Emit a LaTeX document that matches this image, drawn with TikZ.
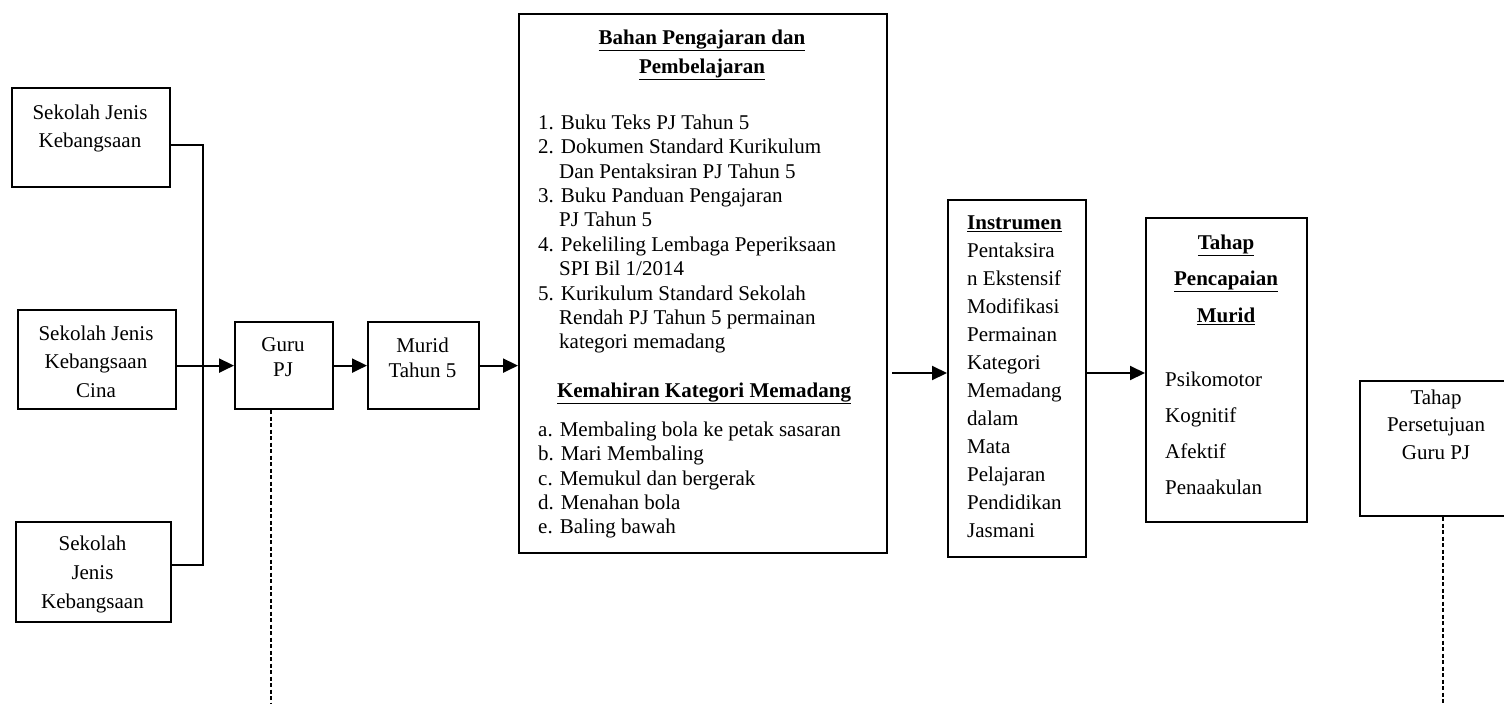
\documentclass[tikz,border=0pt]{standalone}
\usepackage{fontspec}
\setmainfont{Liberation Serif}
\usetikzlibrary{arrows.meta,calc}

\tikzset{
  box/.style={draw, line width=2.2pt, inner sep=0pt, anchor=north west},
  txt/.style={inner sep=0pt},
  link/.style={line width=2pt},
  arr/.style={line width=2pt, -{Triangle[length=15pt,width=14pt]}},
  guide/.style={line width=1.5pt, dash pattern=on 4pt off 2.5pt},
}
\newcommand{\fs}[1]{\fontsize{21}{#1}\selectfont}
\newcommand{\hd}[1]{\underline{\textbf{#1}}}

\begin{document}
\begin{tikzpicture}[x=1pt, y=-1pt]
  \useasboundingbox (0,0) rectangle (1504,704);
  \clip (0,0) rectangle (1504,704);

  % boxes
  \node[box, minimum width=158pt, minimum height=99pt]  (sjk1)  at (11,87) {};
  \node[box, minimum width=158pt, minimum height=99pt]  (sjkc)  at (17,309) {};
  \node[box, minimum width=155pt, minimum height=100pt] (sjk3)  at (15,521) {};
  \node[box, minimum width=98pt,  minimum height=87pt]  (guru)  at (234,321) {};
  \node[box, minimum width=111pt, minimum height=87pt]  (murid) at (367,321) {};
  \node[box, minimum width=368pt, minimum height=539pt] (bahan) at (518,13) {};
  \node[box, minimum width=138pt, minimum height=357pt] (instr) at (947,199) {};
  \node[box, minimum width=161pt, minimum height=304pt] (tahap) at (1145,217) {};
  \node[box, minimum width=154pt, minimum height=135pt] (setuju) at (1359,380) {};

  % box texts
  \node[txt, align=center, anchor=north, font=\fs{28}] (sjk1t) at (90,104.5)
    {Sekolah Jenis\\Kebangsaan};
  \node[txt, align=center, anchor=north, font=\fs{28.5}] (sjkct) at (96,325.5)
    {Sekolah Jenis\\Kebangsaan\\Cina};
  \node[txt, align=center, anchor=north, font=\fs{29}] (sjk3t) at (92.5,535.5)
    {Sekolah\\Jenis\\Kebangsaan};
  \node[txt, align=center, anchor=north, font=\fs{25}] (gurut) at (283,337.5)
    {Guru\\PJ};
  \node[txt, align=center, anchor=north, font=\fs{25}] (muridt) at (422.5,337.5)
    {Murid\\Tahun 5};

  \node[txt, align=center, anchor=north, font=\fs{29}] (bahanh) at (702,29.5)
    {\hd{Bahan Pengajaran dan}\\\hd{Pembelajaran}};
  \node[txt, align=left, anchor=north west, font=\fs{24.4}] (bahanl) at (538,114.5)
    {1. Buku Teks PJ Tahun 5\\
     2. Dokumen Standard Kurikulum\\
     \hphantom{2.}\ Dan Pentaksiran PJ Tahun 5\\
     3. Buku Panduan Pengajaran\\
     \hphantom{3.}\ PJ Tahun 5\\
     4. Pekeliling Lembaga Peperiksaan\\
     \hphantom{4.}\ SPI Bil 1/2014\\
     5. Kurikulum Standard Sekolah\\
     \hphantom{5.}\ Rendah PJ Tahun 5 permainan\\
     \hphantom{5.}\ kategori memadang};
  \node[txt, anchor=north, font=\fs{24.4}] (kemah) at (704,382.5)
    {\hd{Kemahiran Kategori Memadang}};
  \node[txt, align=left, anchor=north west, font=\fs{24.4}] (keml) at (538,421.5)
    {a. Membaling bola ke petak sasaran\\
     b. Mari Membaling\\
     c. Memukul dan bergerak\\
     d. Menahan bola\\
     e. Baling bawah};

  \node[txt, align=left, anchor=north west, font=\fs{28}] (instrt) at (967,215.5)
    {\hd{Instrumen}\\Pentaksira\\n Ekstensif\\Modifikasi\\Permainan\\Kategori\\
     Memadang\\dalam\\Mata\\Pelajaran\\Pendidikan\\Jasmani};

  \node[txt, align=center, anchor=north, font=\fs{36.5}] (tahaph) at (1226,234.5)
    {\hd{Tahap}\\\hd{Pencapaian}\\\hd{Murid}};
  \node[txt, align=left, anchor=north west, font=\fs{36}] (tahapl) at (1165,371.5)
    {Psikomotor\\Kognitif\\Afektif\\Penaakulan};

  \node[txt, align=center, anchor=north, font=\fs{27.5}] (setujut) at (1436,389.5)
    {Tahap\\Persetujuan\\Guru PJ};

  % connectors
  \coordinate (j1) at (203,145);
  \coordinate (j2) at (203,565);
  \coordinate (ay) at (0,373);
  \coordinate (gd) at (271,704);
  \coordinate (sd) at (1443,704);

  \draw[link] (sjk1.east |- j1) -- (j1) -- (j2) -- (sjk3.east |- j2);
  \draw[arr] (sjkc.east |- guru) -- (guru.west);
  \draw[arr] (guru.east) -- (murid.west);
  \draw[arr] (murid.east) -- (murid.east -| bahan.west);
  \draw[arr] ([xshift=4pt]bahan.east |- ay) -- (instr.west |- ay);
  \draw[arr] (instr.east |- ay) -- (tahap.west |- ay);

  \draw[guide] (guru.south -| gd) -- (gd);
  \draw[guide] (setuju.south -| sd) -- (sd);
\end{tikzpicture}
\end{document}
